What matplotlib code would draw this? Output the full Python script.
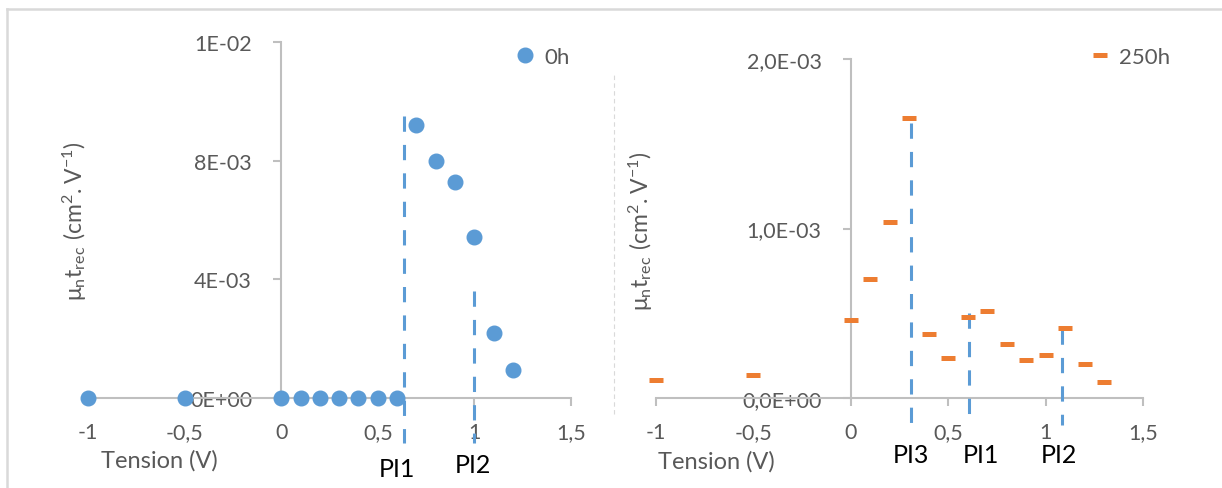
import matplotlib.pyplot as plt
from matplotlib.ticker import FuncFormatter, MultipleLocator
from matplotlib.lines import Line2D

plt.rcParams['font.family'] = ['Lato', 'DejaVu Sans']

# data
tension_0h = [-1, -0.5, 0, 0.1, 0.2, 0.3, 0.4, 0.5, 0.6, 0.7, 0.8, 0.9, 1.0, 1.1, 1.2]
mu_0h = [0, 0, 0, 0, 0, 0, 0, 0, 0, 9.2e-3, 8.0e-3, 7.28e-3, 5.42e-3, 2.19e-3, 0.94e-3]

tension_250h = [-1, -0.5, 0, 0.1, 0.2, 0.3, 0.4, 0.5, 0.6, 0.7, 0.8, 0.9, 1.0, 1.1, 1.2, 1.3]
mu_250h = [0.105e-3, 0.135e-3, 0.46e-3, 0.70e-3, 1.04e-3, 1.65e-3, 0.378e-3, 0.234e-3,
           0.476e-3, 0.515e-3, 0.317e-3, 0.226e-3, 0.256e-3, 0.415e-3, 0.202e-3, 0.096e-3]

# inflection points (PI) : name, x, top of the dashed line
pi_0h = ['PI1', 'PI2']
pi_x_0h = [0.635, 1.0]
pi_top_0h = [9.5e-3, 3.6e-3]

pi_250h = ['PI3', 'PI1', 'PI2']
pi_x_250h = [0.31, 0.605, 1.085]
pi_top_250h = [1.62e-3, 0.5e-3, 0.41e-3]

BLUE = '#5B9BD5'
ORANGE = '#ED7D31'
GREY = '#595959'
AXCOL = '#BFBFBF'

fig = plt.figure(figsize=(12.22, 4.89), dpi=100)

ax1 = fig.add_axes([0.0720, 0.1840, 0.3953, 0.7280])
ax2 = fig.add_axes([0.5368, 0.1840, 0.3985, 0.6933])


def style_axis(ax, ymax, ystep, yfmt):
	ax.set_xlim(-1, 1.5)
	ax.set_ylim(0, ymax)
	for s in ['top', 'right']:
		ax.spines[s].set_visible(False)
	ax.spines['left'].set_position(('data', 0))
	for s in ['left', 'bottom']:
		ax.spines[s].set_color(AXCOL)
		ax.spines[s].set_linewidth(1.5)
	ax.xaxis.set_major_locator(MultipleLocator(0.5))
	ax.yaxis.set_major_locator(MultipleLocator(ystep))
	ax.xaxis.set_major_formatter(FuncFormatter(lambda v, p: '{:g}'.format(v).replace('.', ',')))
	ax.yaxis.set_major_formatter(FuncFormatter(yfmt))
	ax.tick_params(axis='both', colors=AXCOL, labelcolor=GREY, labelsize=15.5, width=1.5, length=6)
	ax.tick_params(axis='x', pad=11)
	ax.tick_params(axis='y', pad=15)
	ax.patch.set_alpha(0)


style_axis(ax1, 0.012, 0.004, lambda v, p: '{:.0E}'.format(v))
style_axis(ax2, 2e-3, 1e-3, lambda v, p: '{:.1E}'.format(v).replace('.', ','))

ax1.plot(tension_0h, mu_0h, 'o', color=BLUE, ms=10.5, ls='none', clip_on=False, zorder=4, label='0h')
ax2.plot(tension_250h, mu_250h, '_', color=ORANGE, ms=10, mew=3.6, ls='none', clip_on=False, zorder=4, label='250h')

# dashed PI lines, going down below the x axis
for x, top in zip(pi_x_0h, pi_top_0h):
	ax1.plot([x, x], [top, -1.5e-3], color=BLUE, lw=2.2, dashes=(5, 4.3), clip_on=False, zorder=3)
for x, top in zip(pi_x_250h, pi_top_250h):
	ax2.plot([x, x], [top, -0.16e-3], color=BLUE, lw=2.2, dashes=(5, 4.3), clip_on=False, zorder=3)

pi_lab_0h = [(0.60, -0.197), (0.99, -0.188)]
for name, (x, y) in zip(pi_0h, pi_lab_0h):
	ax1.text(x, y, name, transform=ax1.get_xaxis_transform(), ha='center', va='center', fontsize=18, color='black')
pi_lab_250h = [(0.31, -0.168), (0.67, -0.168), (1.07, -0.168)]
for name, (x, y) in zip(pi_250h, pi_lab_250h):
	ax2.text(x, y, name, transform=ax2.get_xaxis_transform(), ha='center', va='center', fontsize=18, color='black')

ylab = r'$\mathregular{\mu_n t_{rec}\ (cm^{2}.V^{-1})}$'
ax1.text(-0.027, 0.5, ylab, transform=ax1.transAxes, rotation=90, ha='center', va='center', fontsize=16.5, color=GREY)
ax2.text(-0.031, 0.496, ylab, transform=ax2.transAxes, rotation=90, ha='center', va='center', fontsize=16.5, color=GREY)

ax1.text(0.027, -0.174, 'Tension (V)', transform=ax1.transAxes, ha='left', va='center', fontsize=17, color=GREY)
ax2.text(0.004, -0.186, 'Tension (V)', transform=ax2.transAxes, ha='left', va='center', fontsize=17, color=GREY)

for ax, xy in [(ax1, (0.4206, 0.881)), (ax2, (0.891, 0.881))]:
	leg = ax.legend(loc='center left', bbox_to_anchor=xy, bbox_transform=fig.transFigure,
	                frameon=False, fontsize=16, handlelength=1, handletextpad=0.35, borderpad=0, borderaxespad=0)
	for t in leg.get_texts():
		t.set_color(GREY)

# chart borders
fig.add_artist(Line2D([7 / 1222, 1], [1 - 10 / 489] * 2, color='#D9D9D9', lw=1.8))
fig.add_artist(Line2D([7 / 1222] * 2, [0, 1 - 10 / 489], color='#D9D9D9', lw=1.8))
fig.add_artist(Line2D([614 / 1222] * 2, [0.151, 0.847], color='#D9D9D9', lw=0.8, ls=(0, (4, 3))))

fig.savefig('out.png', dpi=100)
